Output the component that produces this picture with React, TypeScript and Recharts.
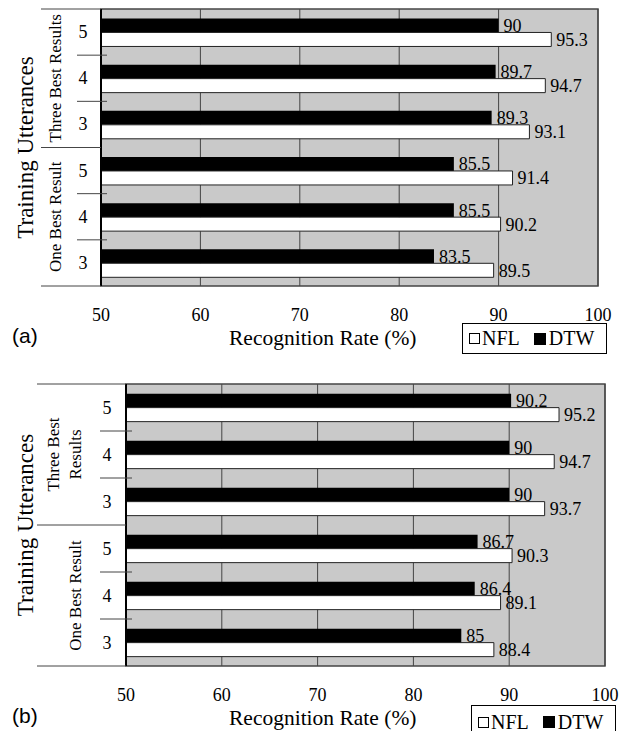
import { BarChart, Bar, XAxis, YAxis, CartesianGrid, ReferenceArea, LabelList } from 'recharts';

const ROW_KEYS = ['T5', 'T4', 'T3', 'O5', 'O4', 'O3'];
const UTTERANCES = ['5', '4', '3', '5', '4', '3'];
const X_TICKS = [50, 60, 70, 80, 90, 100];

const NFL_A = [95.3, 94.7, 93.1, 91.4, 90.2, 89.5];
const DTW_A = [90, 89.7, 89.3, 85.5, 85.5, 83.5];
const NFL_B = [95.2, 94.7, 93.7, 90.3, 89.1, 88.4];
const DTW_B = [90.2, 90, 90, 86.7, 86.4, 85];

const SERIF = '"Liberation Serif", "Times New Roman", serif';
const GRID = '#454545';
const serifStyle = { fontFamily: SERIF };

const toRows = (nfl: number[], dtw: number[]) =>
  ROW_KEYS.map((key, i) => ({ key, nfl: nfl[i], dtw: dtw[i] }));

type PanelCfg = {
  top: number;
  height: number;
  plotTop: number;
  plotLeft: number;
  plotRight: number;
  xAxisHeight: number;
  tickX: number;
  sepLeft: number;
  smallTick: [number, number];
  groupLabels: { lines: string[]; xs: number[] }[];
  data: { key: string; nfl: number; dtw: number }[];
};

const rotated = (x: number, y: number, text: string, size: number, key?: string) => (
  <text
    key={key}
    x={x}
    y={y}
    transform={`rotate(-90, ${x}, ${y})`}
    textAnchor="middle"
    dominantBaseline="central"
    style={serifStyle}
    fontSize={size}
    fill="#000"
  >
    {text}
  </text>
);

const Panel = ({ cfg }: { cfg: PanelCfg }) => {
  const plotBottom = cfg.height - cfg.xAxisHeight;
  const band = (plotBottom - cfg.plotTop) / ROW_KEYS.length;

  const yTick = (props: any) => {
    const { y, index } = props;
    const half = band / 2;
    const items: any[] = [];
    items.push(
      <text key="u" x={cfg.tickX} y={y} textAnchor="middle" dominantBaseline="central" style={serifStyle} fontSize={18} fill="#000">
        {UTTERANCES[index]}
      </text>
    );
    if (index === 0) {
      items.push(<line key="top" x1={cfg.sepLeft} x2={cfg.plotLeft} y1={y - half} y2={y - half} stroke={GRID} />);
    }
    if (index === 2 || index === 5) {
      items.push(<line key="grp" x1={cfg.sepLeft} x2={cfg.plotLeft} y1={y + half} y2={y + half} stroke={GRID} />);
    } else {
      items.push(
        <line key="sm" x1={cfg.smallTick[0]} x2={cfg.smallTick[1]} y1={y + half} y2={y + half} stroke={GRID} />
      );
    }
    if (index === 1 || index === 4) {
      const g = cfg.groupLabels[index === 1 ? 0 : 1];
      g.lines.forEach((ln, i) => items.push(rotated(g.xs[i], y, ln, 17, `g${i}`)));
    }
    if (index === 2) {
      items.push(rotated(25, y + half, 'Training Utterances', 23, 'tu'));
    }
    return <g>{items}</g>;
  };

  const xTick = (props: any) => (
    <text x={props.x} y={props.y + 27} textAnchor="middle" dominantBaseline="central" style={serifStyle} fontSize={18} fill="#000">
      {props.payload.value}
    </text>
  );

  return (
    <div style={{ position: 'absolute', left: 0, top: cfg.top }}>
      <BarChart
        width={619}
        height={cfg.height}
        data={cfg.data}
        layout="vertical"
        margin={{ top: cfg.plotTop, right: 619 - cfg.plotRight, left: 0, bottom: 0 }}
        barCategoryGap="20.5%"
        barGap={0}
        style={serifStyle}
      >
        <CartesianGrid horizontal={false} stroke={GRID} fill="#c9c9c9" fillOpacity={1} />
        <XAxis
          type="number"
          domain={[50, 100]}
          ticks={X_TICKS}
          allowDataOverflow
          axisLine={false}
          tickLine={false}
          tickSize={0}
          height={cfg.xAxisHeight}
          tick={xTick}
          interval={0}
        />
        <YAxis
          type="category"
          dataKey="key"
          width={cfg.plotLeft}
          axisLine={{ stroke: '#000', strokeWidth: 2 }}
          tickLine={false}
          tick={yTick}
          interval={0}
        />
        <ReferenceArea x1={50} x2={100} fill="none" stroke={GRID} strokeWidth={1.5} />
        <Bar dataKey="dtw" fill="#000" isAnimationActive={false}>
          <LabelList dataKey="dtw" position="right" offset={5} fontFamily={SERIF} style={serifStyle} fontSize={18} fill="#000" />
        </Bar>
        <Bar dataKey="nfl" fill="#fff" stroke="#222" strokeWidth={1} isAnimationActive={false}>
          <LabelList dataKey="nfl" position="right" offset={5} fontFamily={SERIF} style={serifStyle} fontSize={18} fill="#000" />
        </Bar>
      </BarChart>
    </div>
  );
};

const LegendBox = ({ left, top, height }: { left: number; top: number; height: number }) => (
  <div
    style={{
      position: 'absolute',
      left,
      top,
      width: 145,
      height,
      border: '1.5px solid #000',
      boxSizing: 'border-box',
      display: 'flex',
      alignItems: 'center',
      paddingLeft: 6,
      fontFamily: SERIF,
      fontSize: 20,
      color: '#000',
      background: '#fff',
    }}
  >
    <span style={{ width: 11, height: 11, border: '1px solid #000', boxSizing: 'border-box', marginRight: 2 }} />
    <span>NFL</span>
    <span style={{ width: 12, height: 12, background: '#000', marginLeft: 14, marginRight: 3 }} />
    <span>DTW</span>
  </div>
);

const Caption = ({ top, label }: { top: number; label: string }) => (
  <>
    <div style={{ position: 'absolute', left: 12, top: top - 2, fontFamily: '"Liberation Sans", Arial, sans-serif', fontSize: 21 }}>
      {label}
    </div>
    <div style={{ position: 'absolute', left: 229, top, fontFamily: SERIF, fontSize: 21.5, whiteSpace: 'nowrap' }}>
      Recognition Rate (%)
    </div>
  </>
);

const PANEL_A: PanelCfg = {
  top: 0,
  height: 360,
  plotTop: 9,
  plotLeft: 101,
  plotRight: 598,
  xAxisHeight: 74,
  tickX: 83,
  sepLeft: 41,
  smallTick: [77, 107],
  groupLabels: [
    { lines: ['Three Best Results'], xs: [55] },
    { lines: ['One Best Result'], xs: [55] },
  ],
  data: toRows(NFL_A, DTW_A),
};

const PANEL_B: PanelCfg = {
  top: 370,
  height: 361,
  plotTop: 14,
  plotLeft: 126,
  plotRight: 605,
  xAxisHeight: 65,
  tickX: 107,
  sepLeft: 37,
  smallTick: [100, 132],
  groupLabels: [
    { lines: ['Three Best', 'Results'], xs: [53, 75] },
    { lines: ['One Best Result'], xs: [75] },
  ],
  data: toRows(NFL_B, DTW_B),
};

export default function App() {
  return (
    <div style={{ position: 'absolute', left: 0, top: 0, width: 619, height: 731, background: '#fff', overflow: 'hidden' }}>
      <Panel cfg={PANEL_A} />
      <Panel cfg={PANEL_B} />
      <Caption top={326} label="(a)" />
      <Caption top={706} label="(b)" />
      <LegendBox left={462} top={323} height={31} />
      <LegendBox left={471} top={705} height={34} />
    </div>
  );
}
